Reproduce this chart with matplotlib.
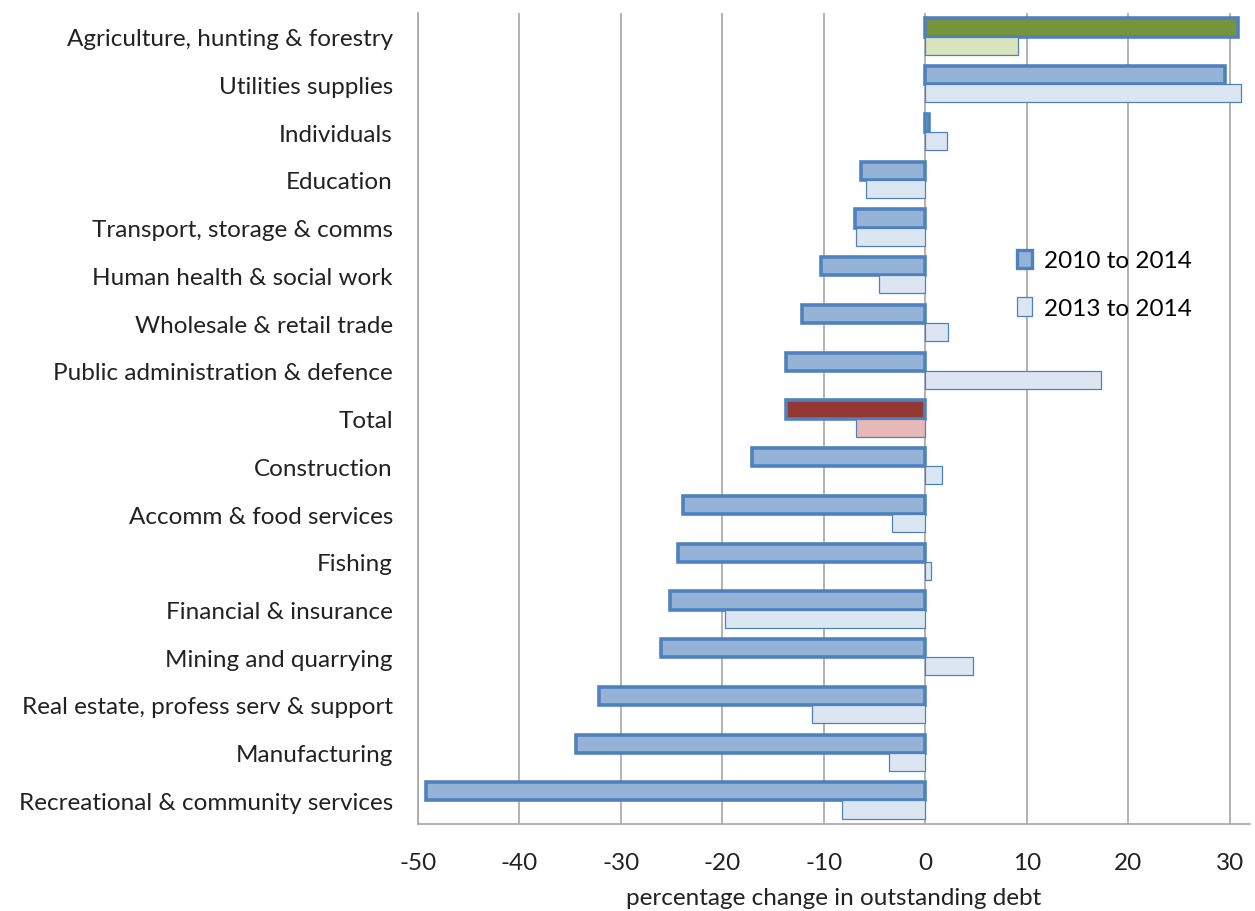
import numpy as np
import matplotlib.pyplot as plt
from matplotlib.patches import Patch

plt.rcParams['font.family'] = ['Lato', 'DejaVu Sans']
plt.rcParams['axes.unicode_minus'] = False

# 카테고리 및 값 (위에서 아래 순서)
categories = ['Agriculture, hunting & forestry', 'Utilities supplies', 'Individuals',
              'Education', 'Transport, storage & comms', 'Human health & social work',
              'Wholesale & retail trade', 'Public administration & defence', 'Total',
              'Construction', 'Accomm & food services', 'Fishing', 'Financial & insurance',
              'Mining and quarrying', 'Real estate, profess serv & support',
              'Manufacturing', 'Recreational & community services']
chg_2010_2014 = [30.8, 29.5, 0.4, -6.3, -6.9, -10.3, -12.1, -13.7, -13.7,
                 -17.1, -23.9, -24.4, -25.2, -26.0, -32.2, -34.4, -49.2]
chg_2013_2014 = [9.1, 31.1, 2.1, -5.8, -6.8, -4.6, 2.2, 17.3, -6.8,
                 1.6, -3.3, 0.6, -19.7, 4.7, -11.2, -3.6, -8.2]

edge = '#4F81BD'
fill_a = ['#95B3D7'] * len(categories)
fill_b = ['#DCE6F2'] * len(categories)
fill_a[0], fill_b[0] = '#77933C', '#D7E4BD'
fill_a[8], fill_b[8] = '#953735', '#E6B9B8'

fig = plt.figure(figsize=(12.55, 9.12), dpi=100)
ax = fig.add_axes([0.333, 0.095, 0.663, 0.89])

y = np.arange(len(categories))
h = 0.38
ax.barh(y - h / 2, chg_2010_2014, height=h, color=fill_a, edgecolor=edge,
        linewidth=2.6, zorder=3)
ax.barh(y + h / 2, chg_2013_2014, height=h, color=fill_b, edgecolor=edge,
        linewidth=0.9, zorder=3)

ax.set_ylim(len(categories) - 0.5, -0.5)
ax.set_xlim(-50, 32)
ax.set_xticks(np.arange(-50, 31, 10))
ax.set_yticks(y)
ax.set_yticklabels(categories, fontsize=17.5, color='#222222')
ax.tick_params(axis='x', labelsize=17.5, colors='#222222', length=0, pad=20)
ax.tick_params(axis='y', length=0, pad=18)
ax.xaxis.grid(True, color='#A6A6A6', linewidth=1.2, zorder=0)
ax.set_axisbelow(True)
for s in ['top', 'right']:
    ax.spines[s].set_visible(False)
for s in ['left', 'bottom']:
    ax.spines[s].set_color('#A6A6A6')
    ax.spines[s].set_linewidth(1.2)

ax.set_xlabel('percentage change in outstanding debt', fontsize=17.5,
              color='#222222', labelpad=10)

handles = [Patch(facecolor='#95B3D7', edgecolor=edge, linewidth=2.4, label='2010 to 2014'),
           Patch(facecolor='#DCE6F2', edgecolor=edge, linewidth=0.9, label='2013 to 2014')]
ax.legend(handles=handles, loc='upper left', bbox_to_anchor=(0.694, 0.735), frameon=False,
          fontsize=17.5, handlelength=0.6, handleheight=0.8,
          handletextpad=0.5, labelspacing=1.05)

fig.savefig('out.png', dpi=100)
